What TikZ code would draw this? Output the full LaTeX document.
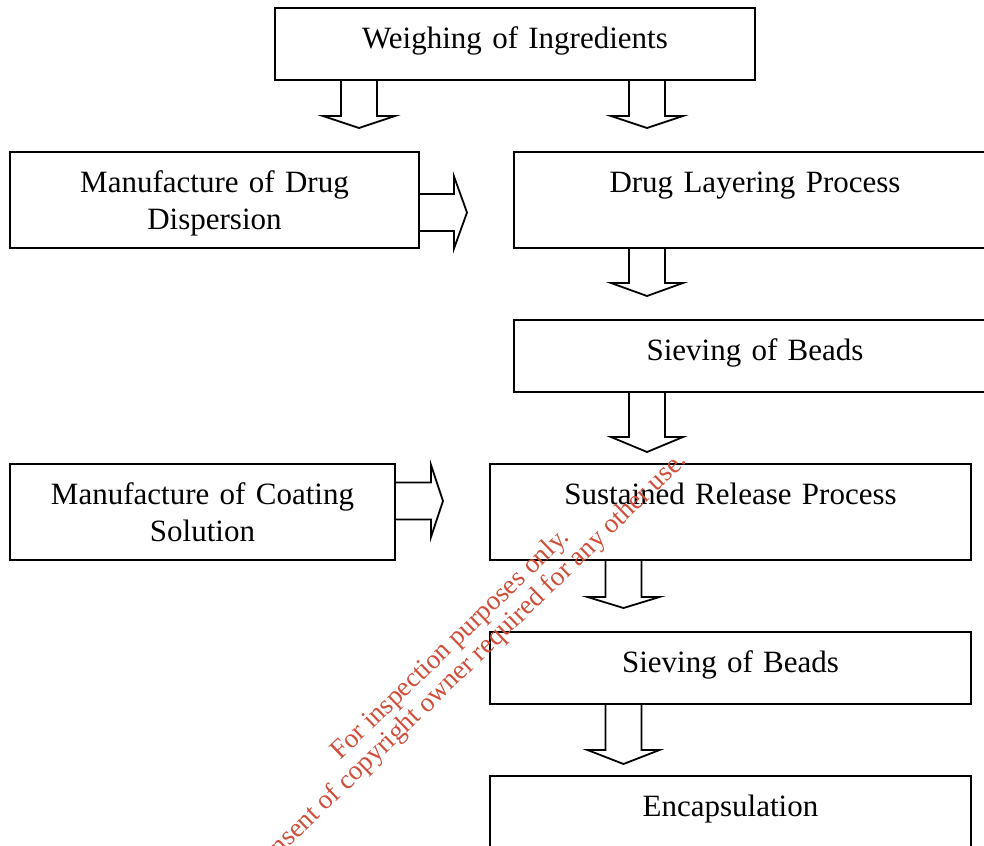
\documentclass[tikz,border=0pt]{standalone}
\usepackage{fontspec}
\setmainfont{Liberation Serif}
\usetikzlibrary{calc, positioning}

\definecolor{stampred}{RGB}{208,78,58}

% hollow block arrows: start point, shaft length, head length
\newcommand{\fatdown}[3]{%
  \draw[fat] #1 ++(-18,0) -- ++(0,#2) -- ++(-18,0) -- ++(36,#3) -- ++(36,-#3) -- ++(-18,0) -- ++(0,-#2);}
\newcommand{\fatright}[3]{%
  \draw[fat] #1 ++(0,-18.5) -- ++(#2,0) -- ++(0,-17.5) -- ++(#3,36) -- ++(-#3,36) -- ++(0,-17.5) -- ++(-#2,0);}

\begin{document}
\begin{tikzpicture}[x=0.75pt, y=-0.75pt, node distance=54pt,
  box/.style={draw, line width=1.4pt, inner sep=0pt, outer sep=0pt, anchor=north west, align=center,
    text width=#1, font=\fontsize{23.25}{27.75}\selectfont,
    text height=30.5pt, text depth=23.5pt, minimum height=54pt},
  tallbox/.style={box=#1, text depth=41.5pt, minimum height=72pt},
  fat/.style={line width=1.35pt, line join=miter},
  stamp/.style={text=stampred, font=\fontsize{20.4}{24}\selectfont, inner sep=0pt, rotate=44}]
  \useasboundingbox (0,0) rectangle (984,845);

  \node[box=360pt] (weigh) at (275,8) {Weighing of Ingredients};
  \node[tallbox=306.75pt] (disp) at (10,152) {Manufacture of Drug\\Dispersion};
  \node[tallbox=361.5pt] (layer) at (514,152) {Drug Layering Process};
  \node[box=361.5pt, below=of layer] (sieveA) {Sieving of Beads};
  \node[tallbox=360.75pt] (sustain) at (490,464) {Sustained Release Process};
  \node[tallbox=288.75pt] (coat) at (10,464) {Manufacture of Coating\\Solution};
  \node[box=360.75pt, below=of sustain] (sieveB) {Sieving of Beads};
  \node[tallbox=360.75pt, below=of sieveB] (encap) {Encapsulation};

  % arrows
  \fatdown{($(weigh.south)+(-156,0)$)}{36}{12}
  \fatdown{($(weigh.south)+(132,0)$)}{36}{12}
  \fatright{($(disp.east)+(0,12.5)$)}{35}{13}
  \fatdown{($(layer.south)+(-108,0)$)}{35}{13}
  \fatdown{($(sieveA.south)+(-108,0)$)}{45}{15}
  \fatright{($(coat.east)+(0,-11)$)}{36}{12}
  \fatdown{($(sustain.south)+(-107,0)$)}{37}{11}
  \fatdown{($(sieveB.south)+(-107,0)$)}{46}{14}

  \node[stamp, anchor=base west] (wmA) at (340,761) {For inspection purposes only.};
  \node[stamp, anchor=base east] (wmB) at (688,462) {Consent of copyright owner required for any other use.};
\end{tikzpicture}
\end{document}
